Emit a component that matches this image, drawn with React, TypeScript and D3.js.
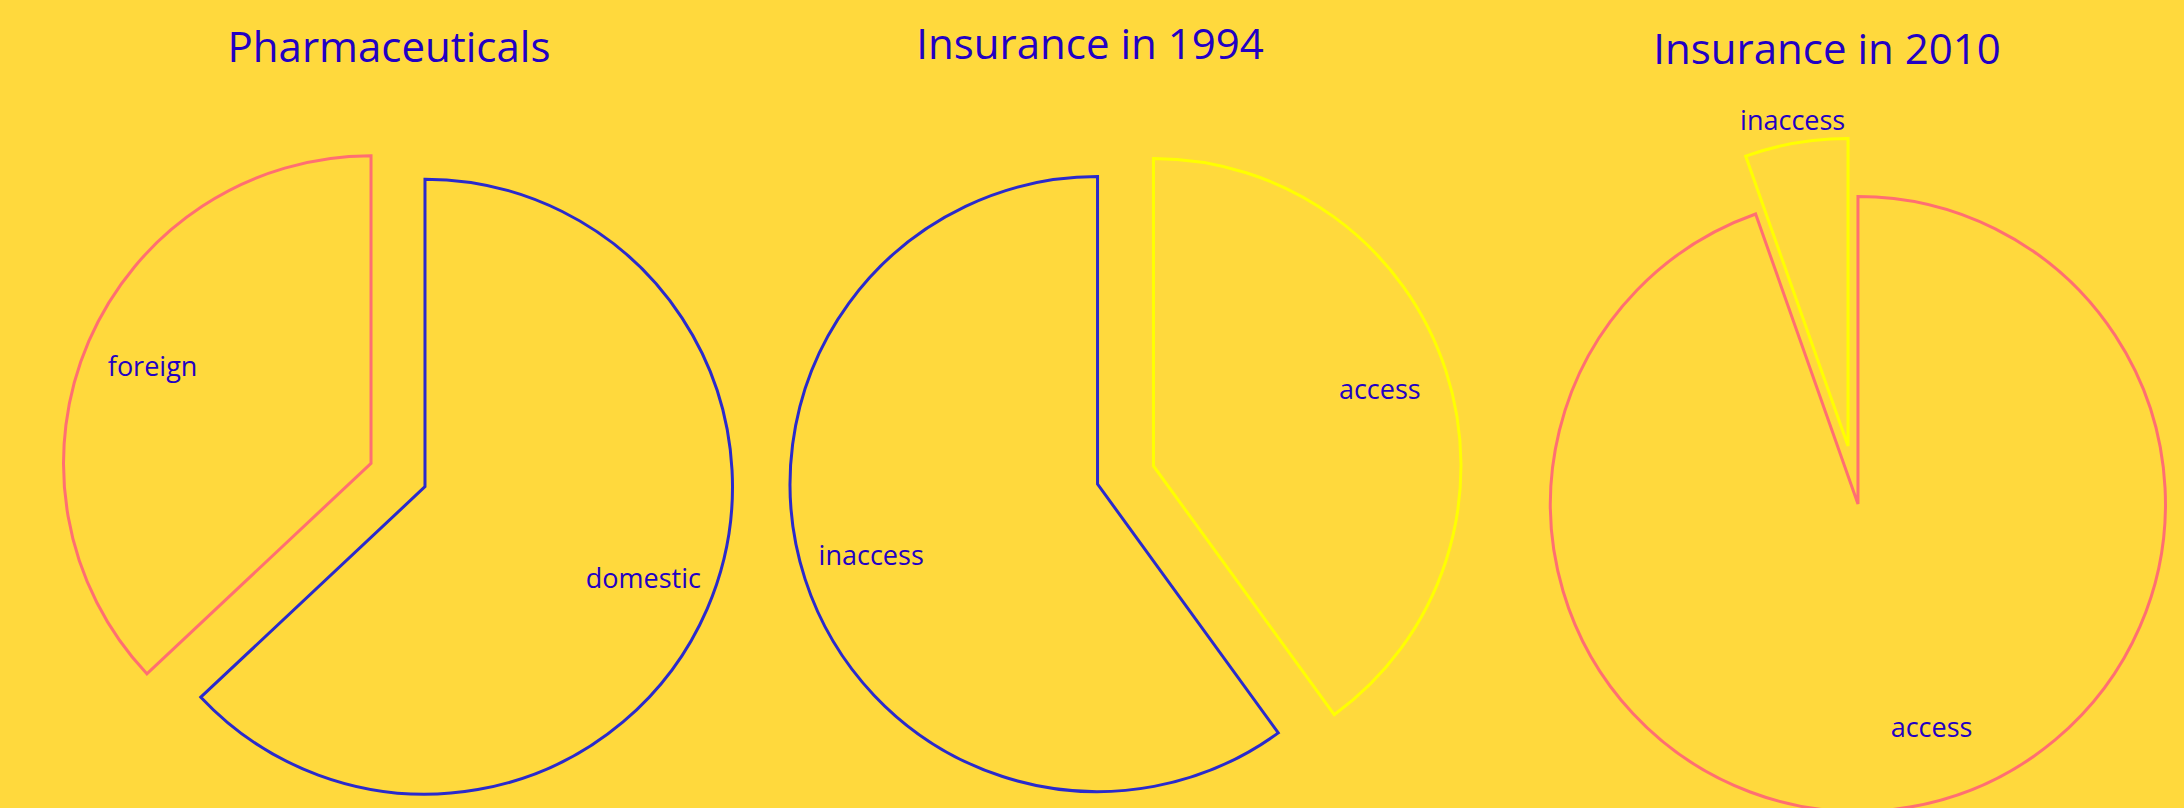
import React from "react";
import * as d3 from "d3";

// ---- data ----
const titles = ["Pharmaceuticals", "Insurance in 1994", "Insurance in 2010"];
const pharmaLabels = ["domestic", "foreign"];
const pharmaValues = [63, 37];
const ins1994Labels = ["access", "inaccess"];
const ins1994Values = [40, 60];
const ins2010Labels = ["access", "inaccess"];
const ins2010Values = [94.6, 5.4];

// ---- style / layout ----
const W = 2184;
const H = 808;
const BG = "#FFD93D";
const TEXT = "#2200C4";
const BLUE = "#2A2ACC";
const PINK = "#FF6F72";
const YELLOW = "#FFFF00";
const FONT = "'Open Sans', sans-serif";
const R = 307.5;
const PULL = 29.4;
const CY = 475;
const LABEL_R = 238;

const pies = [
  { labels: pharmaLabels, values: pharmaValues, strokes: [BLUE, PINK], titleX: 389, titleY: 62, labelAngle: [null, null] },
  { labels: ins1994Labels, values: ins1994Values, strokes: [YELLOW, BLUE], titleX: 1090, titleY: 59, labelAngle: [null, null] },
  { labels: ins2010Labels, values: ins2010Values, strokes: [PINK, YELLOW], titleX: 1827, titleY: 64, labelAngle: [162, null] },
];

const cxScale = d3.scaleLinear().domain([0, 2]).range([398, 1853]);

export default function App() {
  const arc = d3.arc<d3.PieArcDatum<number>>().innerRadius(0).outerRadius(R);
  const pieGen = d3.pie<number>().sort(null).value((d) => d);

  return (
    <div style={{ position: "absolute", left: 0, top: 0 }}>
      <svg width={W} height={H} style={{ display: "block" }}>
        <rect x={0} y={0} width={W} height={H} fill={BG} />
        {pies.map((p, i) => {
          const cx = cxScale(i);
          const arcs = pieGen(p.values);
          return (
            <g key={i}>
              <text
                x={p.titleX}
                y={p.titleY}
                textAnchor="middle"
                fontFamily={FONT}
                fontSize={42}
                fill={TEXT}
              >
                {titles[i]}
              </text>
              {arcs.map((a, j) => {
                const mid = (a.startAngle + a.endAngle) / 2;
                const ox = cx + PULL * Math.sin(mid);
                const oy = CY - PULL * Math.cos(mid);
                const span = a.endAngle - a.startAngle;
                const outside = span < 0.6;
                const la = p.labelAngle[j] != null ? ((p.labelAngle[j] as number) * Math.PI) / 180 : mid;
                const lr = outside ? R + 20.5 : LABEL_R;
                const lx = ox + lr * Math.sin(la);
                const ly = oy - lr * Math.cos(la) + 7;
                return (
                  <g key={j}>
                    <path
                      d={arc(a) || ""}
                      transform={`translate(${ox},${oy})`}
                      fill="none"
                      stroke={p.strokes[j]}
                      strokeWidth={3}
                      strokeLinejoin="miter"
                    />
                    <text
                      x={lx}
                      y={ly}
                      textAnchor="middle"
                      fontFamily={FONT}
                      fontSize={27}
                      fill={TEXT}
                    >
                      {p.labels[j]}
                    </text>
                  </g>
                );
              })}
            </g>
          );
        })}
      </svg>
    </div>
  );
}
